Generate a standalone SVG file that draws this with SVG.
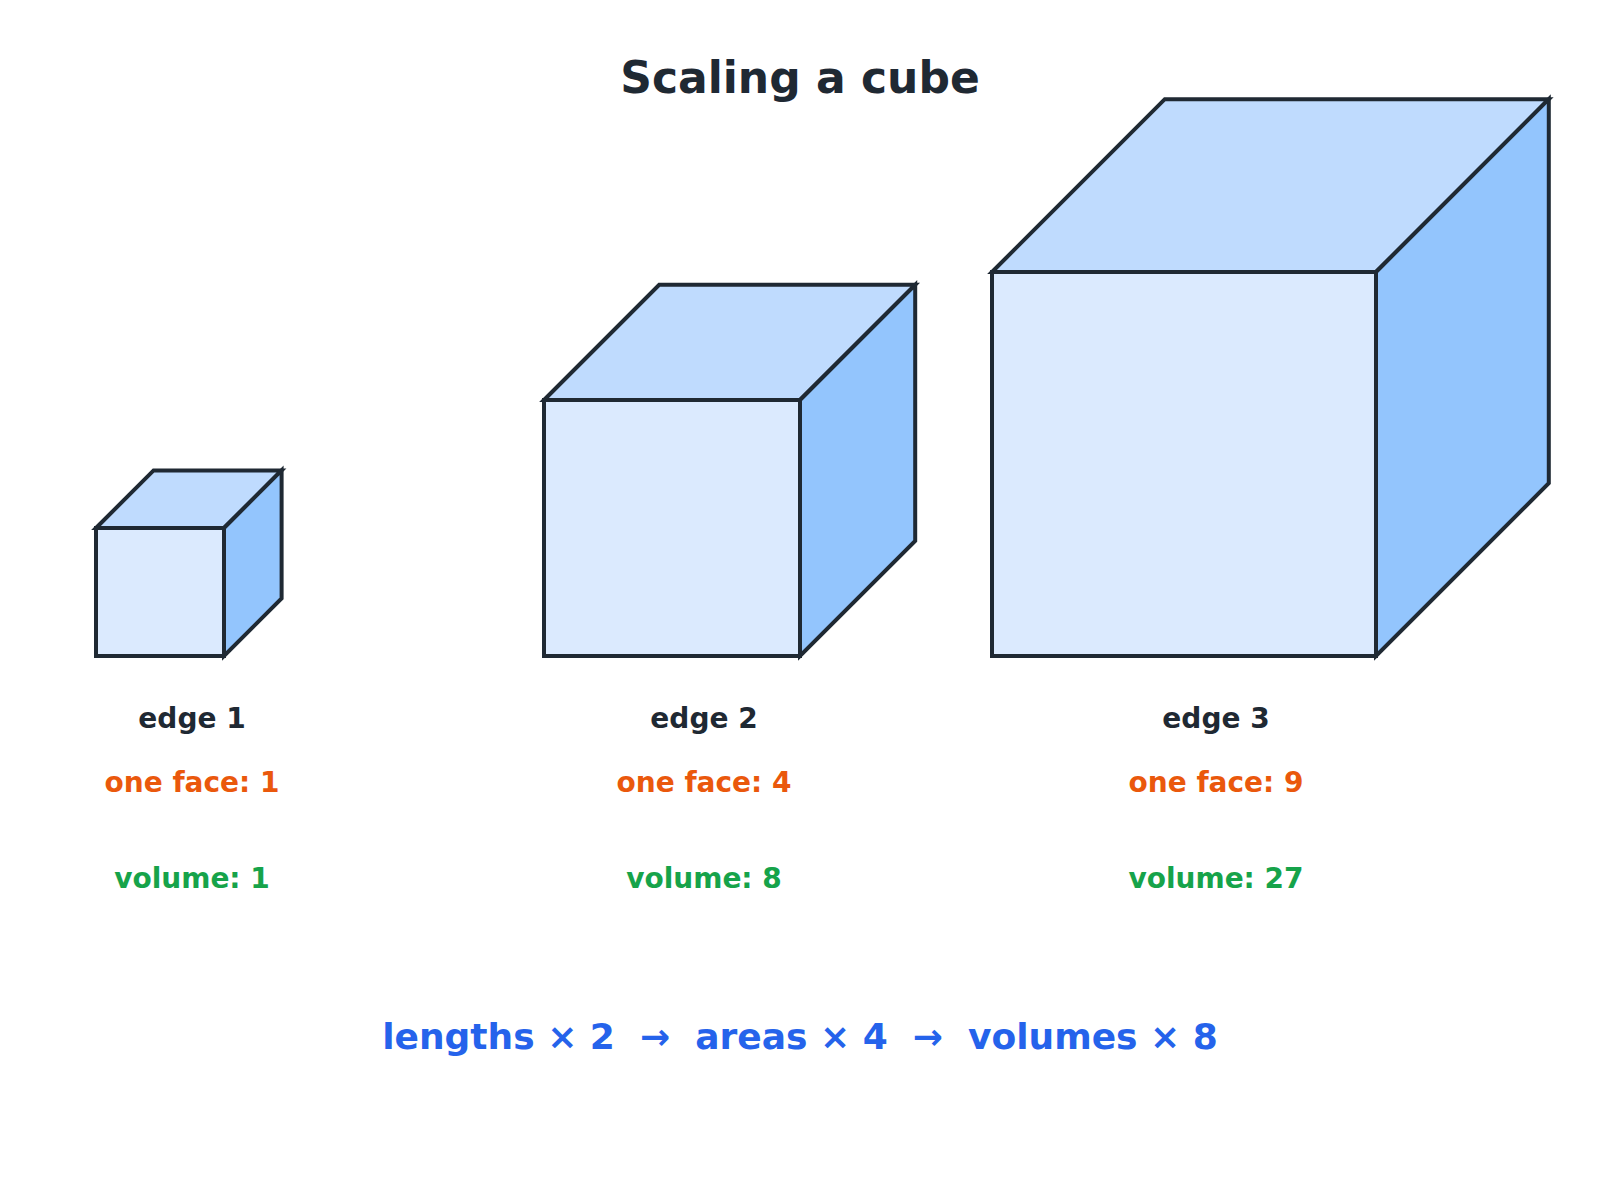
<svg xmlns="http://www.w3.org/2000/svg" width="1600" height="1200" viewBox="0 0 1600 1200">
<style>
.front{fill:#dbeafe;stroke:#1f2933;stroke-width:4;stroke-linejoin:miter}
.top{fill:#bfdbfe;stroke:#1f2933;stroke-width:4}
.side{fill:#93c5fd;stroke:#1f2933;stroke-width:4}
text{font-family:"DejaVu Sans",sans-serif;font-weight:bold;text-anchor:middle}
.e{font-size:28px;fill:#1f2933}
.f{font-size:28px;fill:#ea580c}
.v{font-size:28px;fill:#16a34a}
</style>
<rect width="1600" height="1200" fill="#fff"/>
<text x="800" y="93" font-size="44" fill="#1f2933">Scaling a cube</text>
<g id="cube1">
<polygon class="top" points="96,528 153.6,470.4 281.6,470.4 224,528"/>
<polygon class="side" points="224,528 281.6,470.4 281.6,598.4 224,656"/>
<rect class="front" x="96" y="528" width="128" height="128"/>
<text class="e" x="192" y="728">edge 1</text>
<text class="f" x="192" y="792">one face: 1</text>
<text class="v" x="192" y="888">volume: 1</text>
</g>
<g id="cube2">
<polygon class="top" points="544,400 659.2,284.8 915.2,284.8 800,400"/>
<polygon class="side" points="800,400 915.2,284.8 915.2,540.8 800,656"/>
<rect class="front" x="544" y="400" width="256" height="256"/>
<text class="e" x="704" y="728">edge 2</text>
<text class="f" x="704" y="792">one face: 4</text>
<text class="v" x="704" y="888">volume: 8</text>
</g>
<g id="cube3">
<polygon class="top" points="992,272 1164.8,99.2 1548.8,99.2 1376,272"/>
<polygon class="side" points="1376,272 1548.8,99.2 1548.8,483.2 1376,656"/>
<rect class="front" x="992" y="272" width="384" height="384"/>
<text class="e" x="1216" y="728">edge 3</text>
<text class="f" x="1216" y="792">one face: 9</text>
<text class="v" x="1216" y="888">volume: 27</text>
</g>
<g id="connectors"/>
<text x="800" y="1049" font-size="36" fill="#2563eb" xml:space="preserve">lengths × 2  →  areas × 4  →  volumes × 8</text>
</svg>
